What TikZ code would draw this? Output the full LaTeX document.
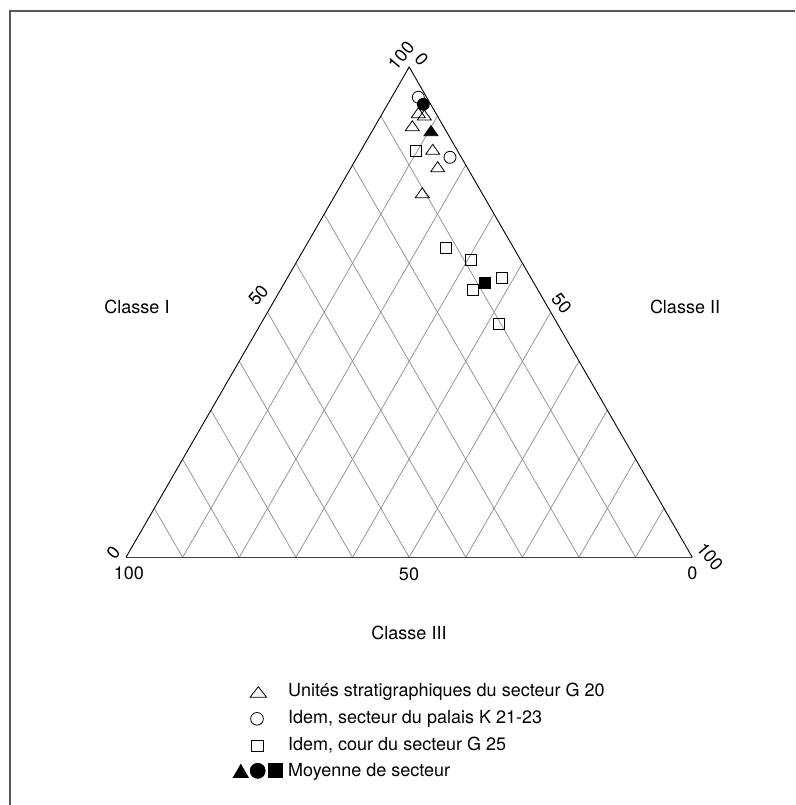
\documentclass[tikz,border=0pt]{standalone}
\usepackage{fontspec}
\setmainfont{TeX Gyre Heros}
\usetikzlibrary{calc}
\begin{document}
\begin{tikzpicture}[x=1pt,y=-1pt,
  grid/.style={draw=black!45, line width=0.7pt},
  side/.style={draw=black, line width=0.9pt},
  frame/.style={draw=black!65, line width=1.5pt},
  lbl/.style={font=\fontsize{18}{21}\selectfont, inner sep=0},
  mk/.style={line width=0.8pt},
  otri/.pic={\draw[mk] (-7,5) -- (7,5) -- (0,-5) -- cycle;},
  ftri/.pic={\filldraw[mk] (-7,5) -- (7,5) -- (0,-5) -- cycle;},
  ltri/.pic={\draw[mk] (-8.3,5.3) -- (8.3,5.3) -- (0,-5.3) -- cycle;},
  lftri/.pic={\filldraw[mk] (-7.5,6.5) -- (7.5,6.5) -- (0,-6.5) -- cycle;},
  circ/.style={circle, draw=black, line width=0.8pt, minimum size=12pt, inner sep=0},
  fcirc/.style={circ, fill=black},
  sq/.style={rectangle, draw=black, line width=0.8pt, minimum size=11pt, inner sep=0},
  fsq/.style={sq, fill=black}
]
\useasboundingbox (0,0) rectangle (795,805);
% frame
\coordinate (f1) at (795,11);
\coordinate (f2) at (10,11);
\coordinate (f3) at (10,805);
\draw[frame] (f1) -- (f2) -- (f3);
% triangle vertices
\coordinate (A) at (126,557.3);
\coordinate (B) at (692.3,557.3);
\coordinate (C) at (409.15,67);
% grid
\foreach \k in {1,...,9}{
  \pgfmathsetmacro{\t}{\k/10}
  \draw[grid] ($(A)!\t!(B)$) -- ($(B)!1-\t!(C)$);
  \draw[grid] ($(A)!\t!(B)$) -- ($(A)!\t!(C)$);
}
\draw[side] (A) -- (C) -- (B);
\draw[draw=black!75, line width=0.9pt] (A) -- (B);
% axis labels
\node[lbl, rotate=50] (t100) at (401,55.5) {100};
\node[lbl, rotate=-50] (t0) at (421.5,59) {0};
\node[lbl, rotate=50] (l50) at (258.3,295) {50};
\node[lbl, rotate=-50] (r50) at (561.7,303.3) {50};
\node[lbl, rotate=50] (bl0) at (113.3,552.3) {0};
\node[lbl] (bl100) at (128.8,573.3) {100};
\node[lbl] (b50) at (409,574.3) {50};
\node[lbl] (br0) at (692.3,573.3) {0};
\node[lbl, rotate=-50] (br100) at (710,556.7) {100};
\node[lbl] (c1) at (137,307) {Classe I};
\node[lbl] (c2) at (685,307) {Classe II};
\node[lbl] (c3) at (409,633) {Classe III};
% data: open symbols
\node[circ] (o1) at (418.3,97.3) {};
\node[circ] (o2) at (450,157.3) {};
\pic (d1) at (418.3,112.7) {otri};
\pic (d2) at (424.3,115) {otri};
\pic (d3) at (412.3,125.7) {otri};
\pic (d4) at (432.7,149.3) {otri};
\pic (d5) at (437.7,166.7) {otri};
\pic (d6) at (422.3,192.7) {otri};
\node[sq] (s1) at (415.7,150.7) {};
\node[sq] (s2) at (446,248.3) {};
\node[sq] (s3) at (471,260) {};
\node[sq] (s4) at (502,277.7) {};
\node[sq] (s5) at (472.7,290) {};
\node[sq] (s6) at (499.3,324) {};
% means
\node[fcirc] (mo) at (423.3,104.3) {};
\pic (md) at (431,130.7) {ftri};
\node[fsq] (ms) at (485,283.3) {};
% legend
\pic (ld) at (258.3,692) {ltri};
\node[circ, minimum size=12.7pt] (lo) at (257,718.8) {};
\node[sq, minimum size=11.7pt] (ls) at (257.5,745.8) {};
\pic (lmd) at (240.8,771) {lftri};
\node[fcirc, minimum size=15pt] (lmo) at (257.7,770.8) {};
\node[fsq, minimum size=14pt] (lms) at (275.8,770.8) {};
\node[lbl, anchor=base west] (lt1) at (288,696.7) {Unités stratigraphiques du secteur G 20};
\node[lbl, anchor=base west] (lt2) at (288,723.3) {Idem, secteur du palais K 21-23};
\node[lbl, anchor=base west] (lt3) at (288,750) {Idem, cour du secteur G 25};
\node[lbl, anchor=base west] (lt4) at (288,776.7) {Moyenne de secteur};
\end{tikzpicture}
\end{document}
